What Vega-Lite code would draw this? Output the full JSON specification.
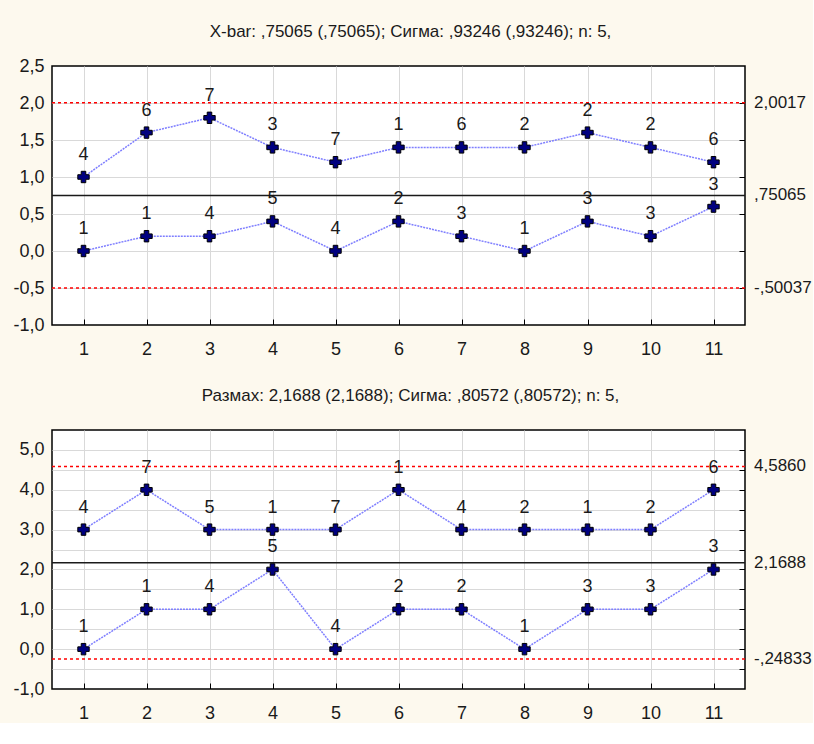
{
  "$schema": "https://vega.github.io/schema/vega-lite/v6.json",
  "background": "#fdf9ee",
  "padding": {"left": 12, "top": 22, "right": 0, "bottom": 0},
  "spacing": 105,
  "bounds": "flush",
  "config": {
    "view": {"stroke": "#000000", "strokeWidth": 1.5, "fill": "#ffffff"},
    "axis": {"labelFont": "Liberation Sans", "labelFontSize": 18, "labelColor": "#1a1a1a", "gridColor": "#d9d9d9", "gridWidth": 1, "domain": false, "title": null, "tickColor": "#000000", "tickWidth": 1},
    "title": {"font": "Liberation Sans", "fontSize": 17, "fontWeight": "normal", "color": "#1a1a1a"},
    "text": {"font": "Liberation Sans", "fontSize": 18, "color": "#1a1a1a"}
  },
  "datasets": {
    "xbar": [
      {"x": 1, "v": 1.0, "lab": "4", "s": "hi"}, {"x": 2, "v": 1.6, "lab": "6", "s": "hi"}, {"x": 3, "v": 1.8, "lab": "7", "s": "hi"}, {"x": 4, "v": 1.4, "lab": "3", "s": "hi"}, {"x": 5, "v": 1.2, "lab": "7", "s": "hi"}, {"x": 6, "v": 1.4, "lab": "1", "s": "hi"}, {"x": 7, "v": 1.4, "lab": "6", "s": "hi"}, {"x": 8, "v": 1.4, "lab": "2", "s": "hi"}, {"x": 9, "v": 1.6, "lab": "2", "s": "hi"}, {"x": 10, "v": 1.4, "lab": "2", "s": "hi"}, {"x": 11, "v": 1.2, "lab": "6", "s": "hi"},
      {"x": 1, "v": 0.0, "lab": "1", "s": "lo"}, {"x": 2, "v": 0.2, "lab": "1", "s": "lo"}, {"x": 3, "v": 0.2, "lab": "4", "s": "lo"}, {"x": 4, "v": 0.4, "lab": "5", "s": "lo"}, {"x": 5, "v": 0.0, "lab": "4", "s": "lo"}, {"x": 6, "v": 0.4, "lab": "2", "s": "lo"}, {"x": 7, "v": 0.2, "lab": "3", "s": "lo"}, {"x": 8, "v": 0.0, "lab": "1", "s": "lo"}, {"x": 9, "v": 0.4, "lab": "3", "s": "lo"}, {"x": 10, "v": 0.2, "lab": "3", "s": "lo"}, {"x": 11, "v": 0.6, "lab": "3", "s": "lo"}
    ],
    "xbarLim": [
      {"v": 2.0017, "lab": "2,0017", "kind": "UCL"},
      {"v": 0.75065, "lab": ",75065", "kind": "CL"},
      {"v": -0.50037, "lab": "-,50037", "kind": "LCL"}
    ],
    "range": [
      {"x": 1, "v": 3, "lab": "4", "s": "hi"}, {"x": 2, "v": 4, "lab": "7", "s": "hi"}, {"x": 3, "v": 3, "lab": "5", "s": "hi"}, {"x": 4, "v": 3, "lab": "1", "s": "hi"}, {"x": 5, "v": 3, "lab": "7", "s": "hi"}, {"x": 6, "v": 4, "lab": "1", "s": "hi"}, {"x": 7, "v": 3, "lab": "4", "s": "hi"}, {"x": 8, "v": 3, "lab": "2", "s": "hi"}, {"x": 9, "v": 3, "lab": "1", "s": "hi"}, {"x": 10, "v": 3, "lab": "2", "s": "hi"}, {"x": 11, "v": 4, "lab": "6", "s": "hi"},
      {"x": 1, "v": 0, "lab": "1", "s": "lo"}, {"x": 2, "v": 1, "lab": "1", "s": "lo"}, {"x": 3, "v": 1, "lab": "4", "s": "lo"}, {"x": 4, "v": 2, "lab": "5", "s": "lo"}, {"x": 5, "v": 0, "lab": "4", "s": "lo"}, {"x": 6, "v": 1, "lab": "2", "s": "lo"}, {"x": 7, "v": 1, "lab": "2", "s": "lo"}, {"x": 8, "v": 0, "lab": "1", "s": "lo"}, {"x": 9, "v": 1, "lab": "3", "s": "lo"}, {"x": 10, "v": 1, "lab": "3", "s": "lo"}, {"x": 11, "v": 2, "lab": "3", "s": "lo"}
    ],
    "rangeLim": [
      {"v": 4.586, "lab": "4,5860", "kind": "UCL"},
      {"v": 2.1688, "lab": "2,1688", "kind": "CL"},
      {"v": -0.24833, "lab": "-,24833", "kind": "LCL"}
    ]
  },
  "vconcat": [
    {
      "title": {"text": "X-bar: ,75065 (,75065); Сигма: ,93246 (,93246); n: 5,", "dx": 12, "offset": 16},
      "width": 693,
      "height": 259,
      "resolve": {"axis": {"x": "independent", "y": "independent"}},
      "layer": [
        {
          "data": {"name": "xbarLim"},
          "mark": {"type": "rule", "strokeWidth": 1.5},
          "encoding": {
            "y": {"field": "v", "type": "quantitative",
              "axis": {"orient": "right", "offset": -6, "values": [-0.5, 0, 0.5, 1, 1.5, 2], "grid": false, "labels": false, "ticks": true, "tickSize": 6}},
            "color": {"condition": {"test": "datum.kind === 'CL'", "value": "#1a1a1a"}, "value": "#ff0000"},
            "strokeDash": {"condition": {"test": "datum.kind === 'CL'", "value": [1, 0]}, "value": [3, 3]}
          }
        },
        {
          "data": {"name": "xbar"},
          "mark": {"type": "line", "color": "#7f7fff", "strokeWidth": 1.5, "strokeDash": [2, 1]},
          "encoding": {
            "x": {"field": "x", "type": "quantitative",
              "axis": {"orient": "bottom", "offset": -6, "values": [1, 2, 3, 4, 5, 6, 7, 8, 9, 10, 11], "grid": false, "labels": false, "ticks": true, "tickSize": 6}},
            "y": {"field": "v", "type": "quantitative", "axis": null},
            "detail": {"field": "s"}
          }
        },
        {
          "data": {"name": "xbar"},
          "mark": {"type": "point", "shape": "cross", "filled": true, "size": 130, "fill": "#00007f", "stroke": "#000000", "strokeWidth": 1, "opacity": 1},
          "encoding": {
            "x": {"field": "x", "type": "quantitative", "scale": {"domain": [0.5, 11.5], "nice": false, "zero": false},
              "axis": {"orient": "bottom", "values": [1, 2, 3, 4, 5, 6, 7, 8, 9, 10, 11], "format": "d", "grid": true, "ticks": false, "labelPadding": 15}},
            "y": {"field": "v", "type": "quantitative", "scale": {"domain": [-1, 2.5], "nice": false, "zero": false},
              "axis": {"orient": "left", "values": [-1, -0.5, 0, 0.5, 1, 1.5, 2, 2.5], "grid": true, "gridOpacity": {"condition": {"test": "datum.value === 2.5 || datum.value === -1", "value": 0}, "value": 1}, "ticks": false, "labelPadding": 8, "labelExpr": "replace(replace(format(datum.value, '.1f'), '.', ','), '\u2212', '-')"}}
          }
        },
        {
          "data": {"name": "xbar"},
          "mark": {"type": "text", "dy": -22, "baseline": "middle", "align": "center"},
          "encoding": {
            "x": {"field": "x", "type": "quantitative", "axis": null},
            "y": {"field": "v", "type": "quantitative", "axis": null},
            "text": {"field": "lab"}
          }
        },
        {
          "data": {"name": "xbarLim"},
          "mark": {"type": "text", "dx": 9, "align": "left", "baseline": "middle", "clip": false, "fontSize": 17},
          "encoding": {
            "x": {"datum": 11.5, "type": "quantitative", "axis": null},
            "y": {"field": "v", "type": "quantitative", "axis": null},
            "text": {"field": "lab"}
          }
        }
      ]
    },
    {
      "title": {"text": "Размах: 2,1688 (2,1688); Сигма: ,80572 (,80572); n: 5,", "dx": 12, "offset": 25},
      "width": 693,
      "height": 259,
      "resolve": {"axis": {"x": "independent", "y": "independent"}},
      "layer": [
        {
          "data": {"name": "rangeLim"},
          "mark": {"type": "rule", "strokeWidth": 1.5},
          "encoding": {
            "y": {"field": "v", "type": "quantitative",
              "axis": {"orient": "right", "offset": -6, "values": [-0.5, 0, 0.5, 1, 1.5, 2, 2.5, 3, 3.5, 4, 4.5, 5], "grid": false, "labels": false, "ticks": true, "tickSize": 6}},
            "color": {"condition": {"test": "datum.kind === 'CL'", "value": "#1a1a1a"}, "value": "#ff0000"},
            "strokeDash": {"condition": {"test": "datum.kind === 'CL'", "value": [1, 0]}, "value": [3, 3]}
          }
        },
        {
          "data": {"name": "range"},
          "mark": {"type": "line", "color": "#7f7fff", "strokeWidth": 1.5, "strokeDash": [2, 1]},
          "encoding": {
            "x": {"field": "x", "type": "quantitative",
              "axis": {"orient": "bottom", "offset": -6, "values": [1, 2, 3, 4, 5, 6, 7, 8, 9, 10, 11], "grid": false, "labels": false, "ticks": true, "tickSize": 6}},
            "y": {"field": "v", "type": "quantitative", "axis": null},
            "detail": {"field": "s"}
          }
        },
        {
          "data": {"name": "range"},
          "mark": {"type": "point", "shape": "cross", "filled": true, "size": 130, "fill": "#00007f", "stroke": "#000000", "strokeWidth": 1, "opacity": 1},
          "encoding": {
            "x": {"field": "x", "type": "quantitative", "scale": {"domain": [0.5, 11.5], "nice": false, "zero": false},
              "axis": {"orient": "bottom", "values": [1, 2, 3, 4, 5, 6, 7, 8, 9, 10, 11], "format": "d", "grid": true, "ticks": false, "labelPadding": 15}},
            "y": {"field": "v", "type": "quantitative", "scale": {"domain": [-1, 5.5], "nice": false, "zero": false},
              "axis": {"orient": "left", "values": [-1, -0.5, 0, 0.5, 1, 1.5, 2, 2.5, 3, 3.5, 4, 4.5, 5], "grid": true, "gridOpacity": {"condition": {"test": "datum.value === -1", "value": 0}, "value": 1}, "ticks": false, "labelPadding": 8, "labelExpr": "datum.value % 1 === 0 ? replace(replace(format(datum.value, '.1f'), '.', ','), '\u2212', '-') : ''"}}
          }
        },
        {
          "data": {"name": "range"},
          "mark": {"type": "text", "dy": -22, "baseline": "middle", "align": "center"},
          "encoding": {
            "x": {"field": "x", "type": "quantitative", "axis": null},
            "y": {"field": "v", "type": "quantitative", "axis": null},
            "text": {"field": "lab"}
          }
        },
        {
          "data": {"name": "rangeLim"},
          "mark": {"type": "text", "dx": 9, "align": "left", "baseline": "middle", "clip": false, "fontSize": 17},
          "encoding": {
            "x": {"datum": 11.5, "type": "quantitative", "axis": null},
            "y": {"field": "v", "type": "quantitative", "axis": null},
            "text": {"field": "lab"}
          }
        }
      ]
    }
  ]
}
